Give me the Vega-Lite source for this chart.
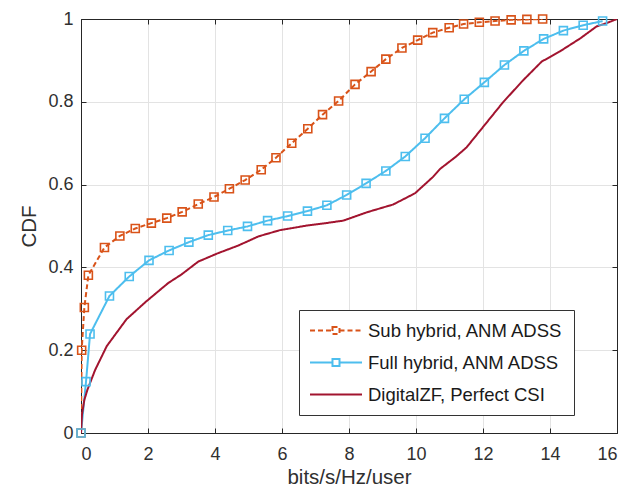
{
  "$schema": "https://vega.github.io/schema/vega-lite/v6.json",
  "width": 536,
  "height": 414,
  "autosize": {"type": "none"},
  "padding": {"left": 81, "top": 19, "right": 14, "bottom": 55},
  "background": "white",
  "config": {
    "font": "Liberation Sans",
    "view": {"stroke": "#262626", "strokeWidth": 1},
    "axis": {
      "domainColor": "#262626",
      "tickColor": "#262626",
      "labelColor": "#303030",
      "titleColor": "#303030",
      "gridColor": "#e3e3e3",
      "gridWidth": 1,
      "labelFont": "Liberation Sans",
      "titleFont": "Liberation Sans",
      "labelFontSize": 18,
      "titleFontSize": 20.5,
      "titleFontWeight": "normal",
      "tickSize": -5,
      "domainWidth": 1
    }
  },
  "datasets": {
    "cdf": [
      {"series": "Sub hybrid, ANM ADSS", "x": 0, "y": 0},
      {"series": "Sub hybrid, ANM ADSS", "x": 0.02, "y": 0.2},
      {"series": "Sub hybrid, ANM ADSS", "x": 0.1, "y": 0.303},
      {"series": "Sub hybrid, ANM ADSS", "x": 0.22, "y": 0.381},
      {"series": "Sub hybrid, ANM ADSS", "x": 0.7, "y": 0.448},
      {"series": "Sub hybrid, ANM ADSS", "x": 1.16, "y": 0.476},
      {"series": "Sub hybrid, ANM ADSS", "x": 1.62, "y": 0.494},
      {"series": "Sub hybrid, ANM ADSS", "x": 2.1, "y": 0.507},
      {"series": "Sub hybrid, ANM ADSS", "x": 2.56, "y": 0.519},
      {"series": "Sub hybrid, ANM ADSS", "x": 3.02, "y": 0.534},
      {"series": "Sub hybrid, ANM ADSS", "x": 3.5, "y": 0.553},
      {"series": "Sub hybrid, ANM ADSS", "x": 3.97, "y": 0.57},
      {"series": "Sub hybrid, ANM ADSS", "x": 4.43, "y": 0.59},
      {"series": "Sub hybrid, ANM ADSS", "x": 4.9, "y": 0.611},
      {"series": "Sub hybrid, ANM ADSS", "x": 5.38, "y": 0.636},
      {"series": "Sub hybrid, ANM ADSS", "x": 5.82, "y": 0.665},
      {"series": "Sub hybrid, ANM ADSS", "x": 6.29, "y": 0.7},
      {"series": "Sub hybrid, ANM ADSS", "x": 6.77, "y": 0.735},
      {"series": "Sub hybrid, ANM ADSS", "x": 7.21, "y": 0.769},
      {"series": "Sub hybrid, ANM ADSS", "x": 7.69, "y": 0.802},
      {"series": "Sub hybrid, ANM ADSS", "x": 8.18, "y": 0.842},
      {"series": "Sub hybrid, ANM ADSS", "x": 8.66, "y": 0.873},
      {"series": "Sub hybrid, ANM ADSS", "x": 9.1, "y": 0.903},
      {"series": "Sub hybrid, ANM ADSS", "x": 9.58, "y": 0.93},
      {"series": "Sub hybrid, ANM ADSS", "x": 10.05, "y": 0.949},
      {"series": "Sub hybrid, ANM ADSS", "x": 10.5, "y": 0.967},
      {"series": "Sub hybrid, ANM ADSS", "x": 10.99, "y": 0.979},
      {"series": "Sub hybrid, ANM ADSS", "x": 11.42, "y": 0.988},
      {"series": "Sub hybrid, ANM ADSS", "x": 11.89, "y": 0.992},
      {"series": "Sub hybrid, ANM ADSS", "x": 12.36, "y": 0.995},
      {"series": "Sub hybrid, ANM ADSS", "x": 12.84, "y": 0.998},
      {"series": "Sub hybrid, ANM ADSS", "x": 13.31, "y": 0.999},
      {"series": "Sub hybrid, ANM ADSS", "x": 13.78, "y": 1.0},
      {"series": "Full hybrid, ANM ADSS", "x": 0, "y": 0},
      {"series": "Full hybrid, ANM ADSS", "x": 0.15, "y": 0.124},
      {"series": "Full hybrid, ANM ADSS", "x": 0.27, "y": 0.239},
      {"series": "Full hybrid, ANM ADSS", "x": 0.85, "y": 0.331},
      {"series": "Full hybrid, ANM ADSS", "x": 1.44, "y": 0.378},
      {"series": "Full hybrid, ANM ADSS", "x": 2.03, "y": 0.417},
      {"series": "Full hybrid, ANM ADSS", "x": 2.63, "y": 0.441},
      {"series": "Full hybrid, ANM ADSS", "x": 3.22, "y": 0.461},
      {"series": "Full hybrid, ANM ADSS", "x": 3.8, "y": 0.478},
      {"series": "Full hybrid, ANM ADSS", "x": 4.38, "y": 0.489},
      {"series": "Full hybrid, ANM ADSS", "x": 4.97, "y": 0.499},
      {"series": "Full hybrid, ANM ADSS", "x": 5.57, "y": 0.513},
      {"series": "Full hybrid, ANM ADSS", "x": 6.17, "y": 0.524},
      {"series": "Full hybrid, ANM ADSS", "x": 6.76, "y": 0.536},
      {"series": "Full hybrid, ANM ADSS", "x": 7.34, "y": 0.55},
      {"series": "Full hybrid, ANM ADSS", "x": 7.93, "y": 0.575},
      {"series": "Full hybrid, ANM ADSS", "x": 8.51, "y": 0.603},
      {"series": "Full hybrid, ANM ADSS", "x": 9.1, "y": 0.633},
      {"series": "Full hybrid, ANM ADSS", "x": 9.68, "y": 0.668},
      {"series": "Full hybrid, ANM ADSS", "x": 10.27, "y": 0.712},
      {"series": "Full hybrid, ANM ADSS", "x": 10.85, "y": 0.76},
      {"series": "Full hybrid, ANM ADSS", "x": 11.44, "y": 0.806},
      {"series": "Full hybrid, ANM ADSS", "x": 12.04, "y": 0.847},
      {"series": "Full hybrid, ANM ADSS", "x": 12.64, "y": 0.889},
      {"series": "Full hybrid, ANM ADSS", "x": 13.22, "y": 0.923},
      {"series": "Full hybrid, ANM ADSS", "x": 13.81, "y": 0.952},
      {"series": "Full hybrid, ANM ADSS", "x": 14.4, "y": 0.972},
      {"series": "Full hybrid, ANM ADSS", "x": 14.99, "y": 0.985},
      {"series": "Full hybrid, ANM ADSS", "x": 15.57, "y": 0.995},
      {"series": "DigitalZF, Perfect CSI", "x": 0, "y": 0},
      {"series": "DigitalZF, Perfect CSI", "x": 0.03, "y": 0.045},
      {"series": "DigitalZF, Perfect CSI", "x": 0.1, "y": 0.08},
      {"series": "DigitalZF, Perfect CSI", "x": 0.19, "y": 0.104},
      {"series": "DigitalZF, Perfect CSI", "x": 0.42, "y": 0.152},
      {"series": "DigitalZF, Perfect CSI", "x": 0.77, "y": 0.21},
      {"series": "DigitalZF, Perfect CSI", "x": 1.36, "y": 0.275},
      {"series": "DigitalZF, Perfect CSI", "x": 1.95, "y": 0.318},
      {"series": "DigitalZF, Perfect CSI", "x": 2.6, "y": 0.362},
      {"series": "DigitalZF, Perfect CSI", "x": 3.0, "y": 0.383},
      {"series": "DigitalZF, Perfect CSI", "x": 3.5, "y": 0.414},
      {"series": "DigitalZF, Perfect CSI", "x": 4.08, "y": 0.434},
      {"series": "DigitalZF, Perfect CSI", "x": 4.7, "y": 0.453},
      {"series": "DigitalZF, Perfect CSI", "x": 5.3, "y": 0.475},
      {"series": "DigitalZF, Perfect CSI", "x": 5.94, "y": 0.49},
      {"series": "DigitalZF, Perfect CSI", "x": 6.74, "y": 0.501},
      {"series": "DigitalZF, Perfect CSI", "x": 7.23, "y": 0.506},
      {"series": "DigitalZF, Perfect CSI", "x": 7.83, "y": 0.513},
      {"series": "DigitalZF, Perfect CSI", "x": 8.53, "y": 0.533},
      {"series": "DigitalZF, Perfect CSI", "x": 9.32, "y": 0.552},
      {"series": "DigitalZF, Perfect CSI", "x": 9.97, "y": 0.579},
      {"series": "DigitalZF, Perfect CSI", "x": 10.5, "y": 0.618},
      {"series": "DigitalZF, Perfect CSI", "x": 10.72, "y": 0.638},
      {"series": "DigitalZF, Perfect CSI", "x": 11.2, "y": 0.668},
      {"series": "DigitalZF, Perfect CSI", "x": 11.51, "y": 0.69},
      {"series": "DigitalZF, Perfect CSI", "x": 12.01, "y": 0.74},
      {"series": "DigitalZF, Perfect CSI", "x": 12.61, "y": 0.8},
      {"series": "DigitalZF, Perfect CSI", "x": 13.21, "y": 0.853},
      {"series": "DigitalZF, Perfect CSI", "x": 13.75, "y": 0.897},
      {"series": "DigitalZF, Perfect CSI", "x": 14.3, "y": 0.922},
      {"series": "DigitalZF, Perfect CSI", "x": 14.9, "y": 0.953},
      {"series": "DigitalZF, Perfect CSI", "x": 15.39, "y": 0.982},
      {"series": "DigitalZF, Perfect CSI", "x": 15.69, "y": 0.99},
      {"series": "DigitalZF, Perfect CSI", "x": 16, "y": 1.0}
    ]
  },
  "data": {"name": "cdf"},
  "layer": [
    {
      "mark": {"type": "line", "strokeWidth": 2, "clip": true},
      "encoding": {
        "x": {
          "field": "x", "type": "quantitative",
          "scale": {"domain": [0, 16], "nice": false},
          "axis": {"values": [0, 2, 4, 6, 8, 10, 12, 14, 16], "format": "~g", "title": "bits/s/Hz/user", "grid": true, "labelPadding": 17, "titlePadding": 4}
        },
        "y": {
          "field": "y", "type": "quantitative",
          "scale": {"domain": [0, 1], "nice": false},
          "axis": {"values": [0, 0.2, 0.4, 0.6, 0.8, 1], "format": "~g", "title": "CDF", "grid": true, "labelPadding": 13, "titlePadding": 8}
        },
        "color": {
          "field": "series", "type": "nominal",
          "scale": {
            "domain": ["Sub hybrid, ANM ADSS", "Full hybrid, ANM ADSS", "DigitalZF, Perfect CSI"],
            "range": ["#D95319", "#4DBEEE", "#A2142F"]
          },
          "legend": {
            "title": null,
            "orient": "none",
            "legendX": 218,
            "legendY": 291,
            "padding": 10,
            "strokeColor": "#333333",
            "fillColor": "white",
            "labelFont": "Liberation Sans",
            "labelFontSize": 18.5,
            "labelColor": "#1a1a1a",
            "labelOffset": 5,
            "labelLimit": 400,
            "rowPadding": 11,
            "clipHeight": 21,
            "symbolSize": 2704,
            "symbolStrokeWidth": 2,
            "symbolType": "M-1,0H-0.135M0.135,0H1M-0.135,-0.135H0.135V0.135H-0.135Z",
            "encode": {
              "symbols": {
                "update": {
                  "fill": {"value": "transparent"},
                  "shape": [
                    {"test": "datum.value === 'DigitalZF, Perfect CSI'", "value": "M-1,0H1"},
                    {"value": "M-1,0H-0.135M0.135,0H1M-0.135,-0.135H0.135V0.135H-0.135Z"}
                  ],
                  "strokeDash": [
                    {"test": "datum.value === 'Sub hybrid, ANM ADSS'", "value": [5, 3]},
                    {"value": [1, 0]}
                  ]
                }
              }
            }
          }
        },
        "strokeDash": {
          "field": "series", "type": "nominal",
          "scale": {
            "domain": ["Sub hybrid, ANM ADSS", "Full hybrid, ANM ADSS", "DigitalZF, Perfect CSI"],
            "range": [[5, 3], [1, 0], [1, 0]]
          },
          "legend": null
        }
      }
    },
    {
      "transform": [{"filter": "datum.series !== 'DigitalZF, Perfect CSI'"}],
      "mark": {"type": "point", "shape": "square", "filled": false, "size": 64, "strokeWidth": 1.6, "opacity": 1},
      "encoding": {
        "x": {
          "field": "x", "type": "quantitative",
          "axis": {"orient": "top", "values": [0, 2, 4, 6, 8, 10, 12, 14, 16], "labels": false, "grid": false, "title": null}
        },
        "y": {
          "field": "y", "type": "quantitative",
          "axis": {"orient": "right", "values": [0, 0.2, 0.4, 0.6, 0.8, 1], "labels": false, "grid": false, "title": null}
        },
        "color": {"field": "series", "type": "nominal"}
      }
    }
  ],
  "resolve": {"axis": {"x": "independent", "y": "independent"}}
}
